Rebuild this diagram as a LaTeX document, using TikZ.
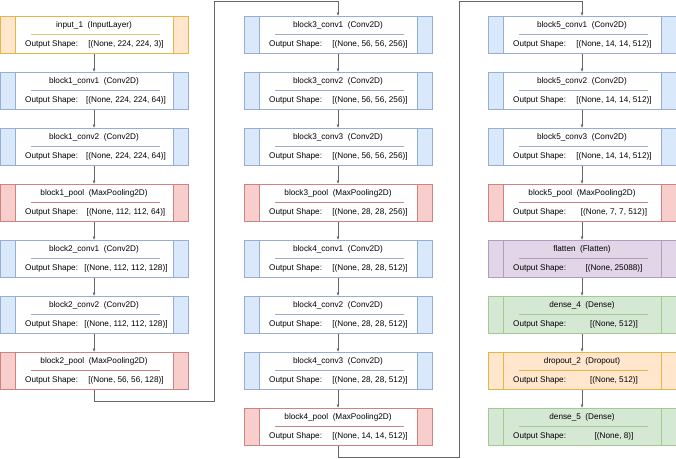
\documentclass[tikz,border=0pt]{standalone}
\usepackage{fontspec}
\setmainfont{Liberation Sans}
\usetikzlibrary{arrows.meta}
\definecolor{bluef}{HTML}{DAE8FC}\definecolor{bluek}{HTML}{6C8EBF}\colorlet{blues}{bluek!72!white}
\definecolor{redf}{HTML}{F8CECC}\definecolor{redk}{HTML}{B85450}\colorlet{reds}{redk!72!white}
\definecolor{orf}{HTML}{FFE6CC}\definecolor{ork}{HTML}{D79B00}\colorlet{ors}{ork!72!white}
\definecolor{purf}{HTML}{E1D5E7}\definecolor{purk}{HTML}{9673A6}\colorlet{purs}{purk!72!white}
\definecolor{grf}{HTML}{D5E8D4}\definecolor{grk}{HTML}{82B366}\colorlet{grs}{grk!72!white}
\definecolor{yelk}{HTML}{D6B656}\colorlet{yels}{yelk!80!white}
\definecolor{linec}{HTML}{666666}
\tikzset{
 lbox/.style={draw, line width=0.5pt, minimum width=188pt, minimum height=37.5pt, inner sep=0pt, outer sep=0pt},
 ltxt/.style={font=\fontsize{8.2}{9}\selectfont, inner sep=0pt},
 sepline/.style={line width=1.1pt},
 conn/.style={draw=linec, line width=0.65pt, -{Latex[length=3.5pt,width=3pt]}},
}
\newcommand\lyr[9]{%
 \pgfmathsetmacro\lyT{16+56*#3}%
 \pgfmathsetmacro\lyL{#2}%
 \node[lbox, draw=#7, fill=#8] (#1) at ({\lyL+94},{\lyT+18.75}) {};
 \filldraw[fill=#6, draw=#7, line width=0.5pt] (#1.north west) rectangle ([xshift=15pt]#1.south west);
 \filldraw[fill=#6, draw=#7, line width=0.5pt] (#1.north east) rectangle ([xshift=-15pt]#1.south east);
 \node[ltxt] (#1t) at ({\lyL+94},{\lyT+9.5}) {#4};
 \draw[sepline, draw=#9] ({\lyL+31},{\lyT+18.7}) -- ({\lyL+160},{\lyT+18.7});
 \node[ltxt, anchor=west] (#1o) at ({\lyL+25},{\lyT+28.3}) {Output Shape:};
 \node[ltxt] (#1v) at ({\lyL+126},{\lyT+28.3}) {#5};
}
\begin{document}
\begin{tikzpicture}[x=1pt,y=-1pt]
\useasboundingbox[fill=white] (0,0) rectangle (676,458);
% column 1
\lyr{in1}{0}{0}{input\_1\ \ (InputLayer)}{[(None, 224, 224, 3)]}{orf}{ors}{white}{yels}
\lyr{b1c1}{0}{1}{block1\_conv1\ \ (Conv2D)}{[(None, 224, 224, 64)]}{bluef}{blues}{white}{blues}
\lyr{b1c2}{0}{2}{block1\_conv2\ \ (Conv2D)}{[(None, 224, 224, 64)]}{bluef}{blues}{white}{blues}
\lyr{b1p}{0}{3}{block1\_pool\ \ (MaxPooling2D)}{[(None, 112, 112, 64)]}{redf}{reds}{white}{reds}
\lyr{b2c1}{0}{4}{block2\_conv1\ \ (Conv2D)}{[(None, 112, 112, 128)]}{bluef}{blues}{white}{blues}
\lyr{b2c2}{0}{5}{block2\_conv2\ \ (Conv2D)}{[(None, 112, 112, 128)]}{bluef}{blues}{white}{blues}
\lyr{b2p}{0}{6}{block2\_pool\ \ (MaxPooling2D)}{[(None, 56, 56, 128)]}{redf}{reds}{white}{reds}
% column 2
\lyr{b3c1}{244}{0}{block3\_conv1\ \ (Conv2D)}{[(None, 56, 56, 256)]}{bluef}{blues}{white}{blues}
\lyr{b3c2}{244}{1}{block3\_conv2\ \ (Conv2D)}{[(None, 56, 56, 256)]}{bluef}{blues}{white}{blues}
\lyr{b3c3}{244}{2}{block3\_conv3\ \ (Conv2D)}{[(None, 56, 56, 256)]}{bluef}{blues}{white}{blues}
\lyr{b3p}{244}{3}{block3\_pool\ \ (MaxPooling2D)}{[(None, 28, 28, 256)]}{redf}{reds}{white}{reds}
\lyr{b4c1}{244}{4}{block4\_conv1\ \ (Conv2D)}{[(None, 28, 28, 512)]}{bluef}{blues}{white}{blues}
\lyr{b4c2}{244}{5}{block4\_conv2\ \ (Conv2D)}{[(None, 28, 28, 512)]}{bluef}{blues}{white}{blues}
\lyr{b4c3}{244}{6}{block4\_conv3\ \ (Conv2D)}{[(None, 28, 28, 512)]}{bluef}{blues}{white}{blues}
\lyr{b4p}{244}{7}{block4\_pool\ \ (MaxPooling2D)}{[(None, 14, 14, 512)]}{redf}{reds}{white}{reds}
% column 3
\lyr{b5c1}{488}{0}{block5\_conv1\ \ (Conv2D)}{[(None, 14, 14, 512)]}{bluef}{blues}{white}{blues}
\lyr{b5c2}{488}{1}{block5\_conv2\ \ (Conv2D)}{[(None, 14, 14, 512)]}{bluef}{blues}{white}{blues}
\lyr{b5c3}{488}{2}{block5\_conv3\ \ (Conv2D)}{[(None, 14, 14, 512)]}{bluef}{blues}{white}{blues}
\lyr{b5p}{488}{3}{block5\_pool\ \ (MaxPooling2D)}{[(None, 7, 7, 512)]}{redf}{reds}{white}{reds}
\lyr{fl}{488}{4}{flatten\ \ (Flatten)}{[(None, 25088)]}{purf}{purs}{purf}{purs}
\lyr{d4}{488}{5}{dense\_4\ \ (Dense)}{[(None, 512)]}{grf}{grs}{grf}{grs}
\lyr{dr2}{488}{6}{dropout\_2\ \ (Dropout)}{[(None, 512)]}{orf}{ors}{orf}{ors}
\lyr{d5}{488}{7}{dense\_5\ \ (Dense)}{[(None, 8)]}{grf}{grs}{grf}{grs}
% connectors
\draw[conn] (in1) -- (b1c1);
\draw[conn] (b1c1) -- (b1c2);
\draw[conn] (b1c2) -- (b1p);
\draw[conn] (b1p) -- (b2c1);
\draw[conn] (b2c1) -- (b2c2);
\draw[conn] (b2c2) -- (b2p);
\coordinate (j1a) at (214,401);
\coordinate (j1b) at (214,1);
\draw[conn] (b2p.south) |- (j1a) -- (j1b) -| (b3c1.north);
\draw[conn] (b3c1) -- (b3c2);
\draw[conn] (b3c2) -- (b3c3);
\draw[conn] (b3c3) -- (b3p);
\draw[conn] (b3p) -- (b4c1);
\draw[conn] (b4c1) -- (b4c2);
\draw[conn] (b4c2) -- (b4c3);
\draw[conn] (b4c3) -- (b4p);
\coordinate (j2a) at (459,457);
\coordinate (j2b) at (459,1);
\draw[conn] (b4p.south) |- (j2a) -- (j2b) -| (b5c1.north);
\draw[conn] (b5c1) -- (b5c2);
\draw[conn] (b5c2) -- (b5c3);
\draw[conn] (b5c3) -- (b5p);
\draw[conn] (b5p) -- (fl);
\draw[conn] (fl) -- (d4);
\draw[conn] (d4) -- (dr2);
\draw[conn] (dr2) -- (d5);
\end{tikzpicture}
\end{document}
